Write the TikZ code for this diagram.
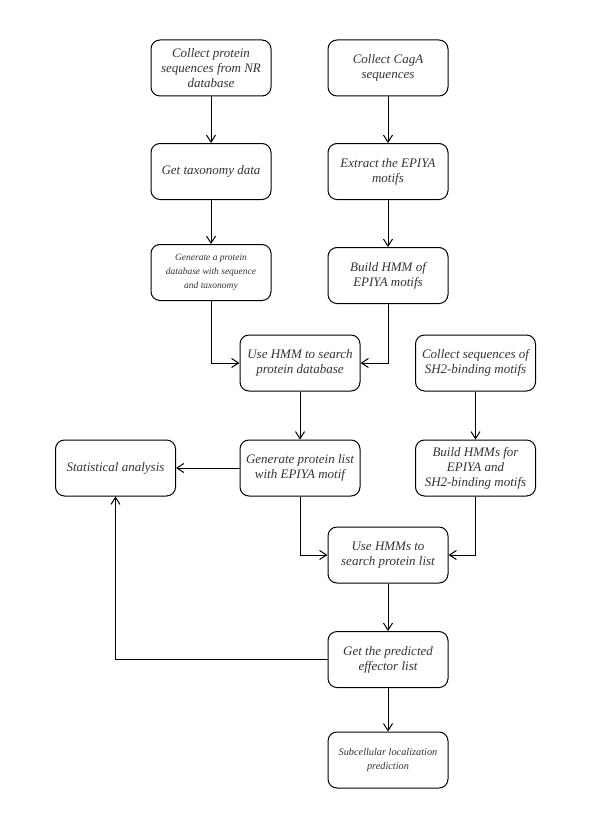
\documentclass[tikz,border=0pt]{standalone}
\usepackage{fontspec}
\setmainfont{Liberation Serif}
\usetikzlibrary{arrows.meta}
\begin{document}
\begin{tikzpicture}[x=1pt,y=-1pt,
  box/.style={draw, line width=1pt, rounded corners=9pt, minimum width=120pt, minimum height=56pt,
    align=center, inner sep=2pt, font=\fontsize{13}{15}\selectfont\itshape, text=black!80},
  smallbox/.style={box, font=\fontsize{9.5}{14}\selectfont\itshape},
  subbox/.style={box, font=\fontsize{10.3}{13.5}\selectfont\itshape},
  arr/.style={line width=1pt, -{Straight Barb[length=7pt,width=9pt,line width=1pt]}}]
\useasboundingbox (0,0) rectangle (600,832);
\node[box] (nr) at (211,68) {Collect protein\\sequences from NR\\database};
\node[box] (caga) at (388,68) {Collect CagA\\sequences};
\node[box] (tax) at (211,171.5) {Get taxonomy data};
\node[box] (ext) at (388,171.5) {Extract the EPIYA\\motifs};
\node[smallbox] (gen) at (211,272.5) {Generate a protein\\database with sequence\\and taxonomy};
\node[box] (build) at (388,275.5) {Build HMM of\\EPIYA motifs};
\node[box] (use) at (300,363) {Use HMM to search\\protein database};
\node[box] (sh2) at (475.5,363) {Collect sequences of\\SH2-binding motifs};
\node[box] (stat) at (115.5,468) {Statistical analysis};
\node[box] (plist) at (300,468) {Generate protein list\\with EPIYA motif};
\node[box] (hmms) at (475.5,468) {Build HMMs for\\EPIYA and\\SH2-binding motifs};
\node[box] (search) at (388,555) {Use HMMs to\\search protein list};
\node[box] (pred) at (388,659.5) {Get the predicted\\effector list};
\node[subbox] (sub) at (388,760) {Subcellular localization\\prediction};
\draw[arr] (nr) -- (tax);
\draw[arr] (caga) -- (ext);
\draw[arr] (tax) -- (gen);
\draw[arr] (ext) -- (build);
\draw[arr] (gen.south) |- (use.west);
\draw[arr] (build.south) |- (use.east);
\draw[arr] (use) -- (plist);
\draw[arr] (sh2) -- (hmms);
\draw[arr] (plist) -- (stat);
\draw[arr] (plist.south) |- (search.west);
\draw[arr] (hmms.south) |- (search.east);
\draw[arr] (search) -- (pred);
\draw[arr] (pred.west) -| (stat.south);
\draw[arr] (pred) -- (sub);
\end{tikzpicture}
\end{document}
